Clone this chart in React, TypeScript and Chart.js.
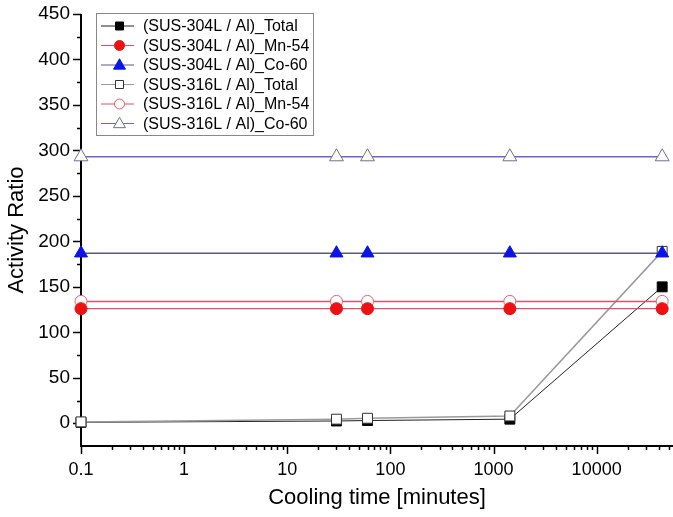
import React, { useEffect, useRef } from 'react';
import { Chart, registerables } from 'chart.js';

Chart.register(...registerables);

const coolingTimes = [0.1, 30, 60, 1440, 43200];
const sus304Total = [1, 2.5, 3, 4.5, 150];
const sus304Mn54 = [126, 126, 126, 126, 126];
const sus304Co60 = [187, 187, 187, 187, 187];
const sus316Total = [1.5, 4.5, 5.5, 8, 189];
const sus316Mn54 = [134, 134, 134, 134, 134];
const sus316Co60 = [293, 293, 293, 293, 293];

const seriesLabels = [
  '(SUS-304L / Al)_Total',
  '(SUS-304L / Al)_Mn-54',
  '(SUS-304L / Al)_Co-60',
  '(SUS-316L / Al)_Total',
  '(SUS-316L / Al)_Mn-54',
  '(SUS-316L / Al)_Co-60',
];
const yTickValues = [0, 50, 100, 150, 200, 250, 300, 350, 400, 450];
const xTickValues = [0.1, 1, 10, 100, 1000, 10000];
const xTitle = 'Cooling time [minutes]';
const yTitle = 'Activity Ratio';

const FONT = "'Liberation Sans', Arial, sans-serif";

type Style = {
  line: string;
  lineWidth: number;
  shape: 'rect' | 'circle' | 'triangle';
  radius: number;
  fill: string;
  stroke: string;
  order: number;
};

const styles: Style[] = [
  { line: '#222222', lineWidth: 1, shape: 'rect', radius: 7, fill: '#000000', stroke: '#000000', order: 6 },
  { line: '#e0506e', lineWidth: 1.3, shape: 'circle', radius: 6, fill: '#ee1111', stroke: '#ee1111', order: 2 },
  { line: '#5a5a80', lineWidth: 1.5, shape: 'triangle', radius: 7.5, fill: '#0a14e6', stroke: '#0a14e6', order: 1 },
  { line: '#9a9a9a', lineWidth: 1.5, shape: 'rect', radius: 7, fill: '#ffffff', stroke: '#333333', order: 5 },
  { line: '#e0506e', lineWidth: 1.5, shape: 'circle', radius: 6, fill: '#ffffff', stroke: '#e06070', order: 3 },
  { line: '#7060d0', lineWidth: 1.5, shape: 'triangle', radius: 8, fill: '#ffffff', stroke: '#707090', order: 4 },
];

const seriesValues = [sus304Total, sus304Mn54, sus304Co60, sus316Total, sus316Mn54, sus316Co60];

function drawMarker(ctx: CanvasRenderingContext2D, shape: string, x: number, y: number, size: number, fill: string, stroke: string) {
  ctx.save();
  ctx.beginPath();
  if (shape === 'rect') {
    ctx.rect(x - size / 2, y - size / 2, size, size);
  } else if (shape === 'circle') {
    ctx.arc(x, y, size / 2, 0, Math.PI * 2);
  } else {
    const h = size * 0.866;
    ctx.moveTo(x, y - h * 0.6);
    ctx.lineTo(x + size / 2, y + h * 0.4);
    ctx.lineTo(x - size / 2, y + h * 0.4);
    ctx.closePath();
  }
  ctx.fillStyle = fill;
  ctx.fill();
  ctx.strokeStyle = stroke;
  ctx.lineWidth = 1;
  ctx.stroke();
  ctx.restore();
}

const axesPlugin = {
  id: 'originAxes',
  beforeDatasetsDraw(chart: any) {
    const { ctx, chartArea, scales } = chart;
    const xs = scales.x;
    const ys = scales.y;
    ctx.save();
    ctx.strokeStyle = '#000';
    ctx.lineWidth = 2;
    ctx.beginPath();
    ctx.moveTo(chartArea.left, chartArea.top);
    ctx.lineTo(chartArea.left, chartArea.bottom);
    ctx.lineTo(chartArea.right, chartArea.bottom);
    ctx.stroke();
    ctx.lineWidth = 1.5;
    for (let v = 0; v <= 450; v += 25) {
      const py = Math.round(ys.getPixelForValue(v)) + 0.5;
      const len = v % 50 === 0 ? 8 : 4;
      ctx.beginPath();
      ctx.moveTo(chartArea.left, py);
      ctx.lineTo(chartArea.left - len, py);
      ctx.stroke();
    }
    for (let e = -1; e <= 4; e++) {
      for (let m = 1; m <= 9; m++) {
        const v = m * Math.pow(10, e);
        if (v > xs.max) continue;
        const px = Math.round(xs.getPixelForValue(v)) + 0.5;
        const len = m === 1 ? 8 : 4;
        ctx.beginPath();
        ctx.moveTo(px, chartArea.bottom);
        ctx.lineTo(px, chartArea.bottom + len);
        ctx.stroke();
      }
    }
    ctx.restore();
  },
  afterDraw(chart: any) {
    const { ctx } = chart;
    const bx = 96, by = 13, bw = 217, bh = 122;
    ctx.save();
    ctx.fillStyle = '#ffffff';
    ctx.fillRect(bx, by, bw, bh);
    ctx.strokeStyle = '#888888';
    ctx.lineWidth = 1;
    ctx.strokeRect(bx + 0.5, by + 0.5, bw, bh);
    ctx.font = `16px ${FONT}`;
    ctx.textBaseline = 'middle';
    seriesLabels.forEach((label, i) => {
      const s = styles[i];
      const cy = by + 13 + i * 19.5;
      ctx.strokeStyle = s.line;
      ctx.lineWidth = 1;
      ctx.beginPath();
      ctx.moveTo(101, cy);
      ctx.lineTo(134, cy);
      ctx.stroke();
      const sz = s.shape === 'rect' ? 8 : s.shape === 'circle' ? 10 : 12;
      drawMarker(ctx, s.shape, 119.5, cy, sz, s.fill, s.stroke);
      ctx.fillStyle = '#000';
      ctx.fillText(label, 143, cy + 1);
    });
    ctx.restore();
  },
};

export default function App() {
  const ref = useRef<HTMLCanvasElement | null>(null);
  useEffect(() => {
    if (!ref.current) return;
    const datasets = seriesValues.map((vals, i) => {
      const s = styles[i];
      return {
        label: seriesLabels[i],
        data: coolingTimes.map((t, j) => ({ x: t, y: vals[j] })),
        borderColor: s.line,
        borderWidth: s.lineWidth,
        pointStyle: s.shape,
        pointRadius: s.radius,
        pointBackgroundColor: s.fill,
        pointBorderColor: s.stroke,
        pointBorderWidth: 1,
        backgroundColor: s.fill,
        fill: false,
        tension: 0,
        clip: false as any,
        order: s.order,
      };
    });
    const chart = new Chart(ref.current, {
      type: 'line',
      data: { datasets: datasets as any },
      options: {
        animation: false,
        responsive: false,
        layout: { autoPadding: false, padding: { top: 14, right: 0, left: 0, bottom: 0 } },
        plugins: { legend: { display: false }, tooltip: { enabled: false } },
        scales: {
          x: {
            type: 'logarithmic',
            min: 0.1,
            max: 55000,
            grid: { display: false, drawTicks: false },
            border: { display: false },
            afterBuildTicks: (scale: any) => {
              scale.ticks = xTickValues.map((v) => ({ value: v }));
            },
            afterFit: (scale: any) => {
              scale.height = 71;
              scale.paddingLeft = 0;
              scale.paddingRight = 0;
            },
            ticks: {
              autoSkip: false,
              maxRotation: 0,
              padding: 13,
              color: '#000',
              font: { family: FONT, size: 18 },
              callback: (v: any) => String(v),
            },
            title: {
              display: true,
              text: xTitle,
              color: '#000',
              font: { family: FONT, size: 22 },
              padding: { top: 0, bottom: 6 },
            },
          },
          y: {
            type: 'linear',
            min: -25,
            max: 450,
            grid: { display: false, drawTicks: false },
            border: { display: false },
            afterBuildTicks: (scale: any) => {
              scale.ticks = yTickValues.map((v) => ({ value: v }));
            },
            afterFit: (scale: any) => {
              scale.width = 81;
              scale.paddingTop = 0;
              scale.paddingBottom = 0;
            },
            ticks: {
              padding: 11,
              color: '#000',
              font: { family: FONT, size: 19 },
              callback: (v: any) => String(v),
            },
            title: {
              display: true,
              text: yTitle,
              color: '#000',
              font: { family: FONT, size: 22 },
              padding: { top: 4, bottom: 0 },
            },
          },
        },
      },
      plugins: [axesPlugin],
    });
    return () => chart.destroy();
  }, []);
  return (
    <div style={{ position: 'absolute', left: 0, top: 0, width: 673, height: 517, background: '#fff' }}>
      <canvas ref={ref} width={673} height={517} />
    </div>
  );
}
